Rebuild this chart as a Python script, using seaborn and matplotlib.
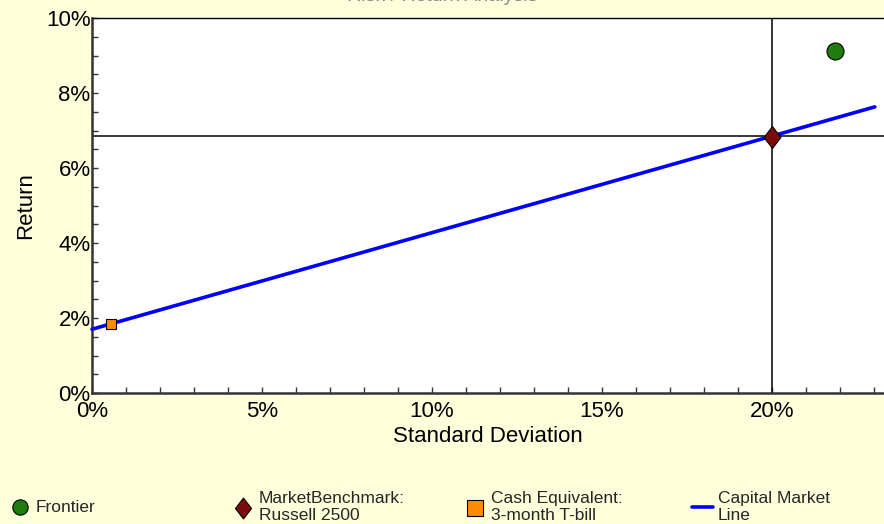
import matplotlib
matplotlib.use("Agg")
import matplotlib.pyplot as plt
import seaborn as sns
import pandas as pd
from matplotlib.ticker import MultipleLocator, FuncFormatter
from matplotlib.path import Path

# ---- data (percent) ----
point_names = ["Frontier", "MarketBenchmark:\nRussell 2500", "Cash Equivalent:\n3-month T-bill"]
point_sd = [21.85, 20.0, 0.55]
point_ret = [9.12, 6.82, 1.84]
point_colors = ["#1E7D0E", "#7B0A0A", "#FF8C00"]
point_sizes = [150, 250, 45]

cml_label = "Capital Market\nLine"
cml_sd = [0.0, 23.03]
cml_ret = [1.70, 7.63]

bench_sd = 20.0
bench_ret = 6.85

sns.set_theme(style="white")
plt.rcParams["font.family"] = ["Liberation Sans", "DejaVu Sans"]

diamond = Path([(0, 1), (0.77, 0), (0, -1), (-0.77, 0), (0, 1)],
               [Path.MOVETO, Path.LINETO, Path.LINETO, Path.LINETO, Path.CLOSEPOLY])
point_markers = ["o", diamond, "s"]

bg = "#FFFFDC"
fig = plt.figure(figsize=(8.84, 5.24), dpi=100, facecolor=bg)
ax = fig.add_axes([92 / 884, 131 / 524, 792 / 884, 375 / 524])
ax.set_facecolor("white")

cml_df = pd.DataFrame({"sd": cml_sd, "ret": cml_ret})
sns.lineplot(data=cml_df, x="sd", y="ret", ax=ax, color="#0000FF", lw=2.6,
             label=cml_label, zorder=3, clip_on=False)

ax.axvline(bench_sd, color="black", lw=1.1, zorder=2)
ax.axhline(bench_ret, color="black", lw=1.1, zorder=2)

for name, sx, ry, c, m, s in zip(point_names, point_sd, point_ret, point_colors, point_markers, point_sizes):
    df = pd.DataFrame({"sd": [sx], "ret": [ry]})
    sns.scatterplot(data=df, x="sd", y="ret", ax=ax, color=c, marker=m, s=s,
                    edgecolor="black", linewidth=0.8, label=name, zorder=4, clip_on=False)

ax.set_xlim(0, 23.3)
ax.set_ylim(0, 10)
ax.xaxis.set_major_locator(MultipleLocator(5))
ax.xaxis.set_minor_locator(MultipleLocator(1))
ax.yaxis.set_major_locator(MultipleLocator(2))
ax.yaxis.set_minor_locator(MultipleLocator(0.5))
fmt = FuncFormatter(lambda v, p: f"{v:.0f}%")
ax.xaxis.set_major_formatter(fmt)
ax.yaxis.set_major_formatter(fmt)
ax.tick_params(axis="both", which="both", direction="in", length=4, width=1, color="#333333",
               labelsize=16, labelcolor="black")
ax.tick_params(axis="x", which="both", bottom=True, pad=6)
ax.tick_params(axis="y", which="both", left=True, pad=1)

for side in ["left", "bottom"]:
    ax.spines[side].set_color("#333333")
    ax.spines[side].set_linewidth(1.8)
ax.spines["top"].set_color("black")
ax.spines["top"].set_linewidth(1.0)
ax.spines["right"].set_visible(False)

ax.set_xlabel("Standard Deviation", fontsize=16, labelpad=3, color="black")
ax.set_ylabel("Return", fontsize=16, labelpad=7, color="black")

fig.text(0.5, 1 - 1 / 524, "Risk / Return Analysis", ha="center", va="baseline",
         fontsize=14, color="#888888")

handles, labels = ax.get_legend_handles_labels()
ax.get_legend().remove()
hmap = dict(zip(labels, handles))
order = ["Frontier", point_names[1], point_names[2], cml_label]
xs = [10, 233, 465, 692]
scales = [0.9, 0.95, 1.7, 1.0]
for lab, xp, ms in zip(order, xs, scales):
    fig.legend([hmap[lab]], [lab], loc="center left", bbox_to_anchor=(xp / 884, 17 / 524),
               frameon=False, fontsize=12.5, handlelength=1.2, handletextpad=0.3,
               labelspacing=0.0, borderpad=0.0, borderaxespad=0.0, markerscale=ms)

fig.savefig("out.png", dpi=100, facecolor=bg)
